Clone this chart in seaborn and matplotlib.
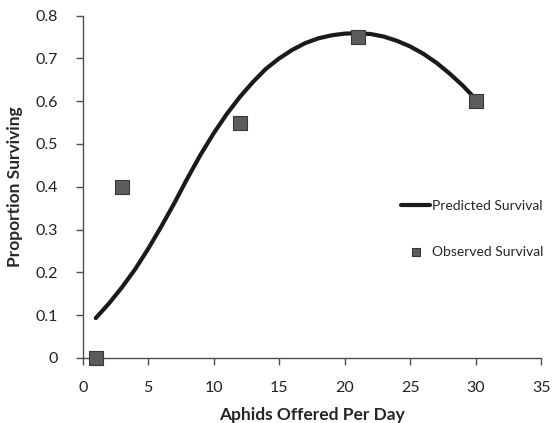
import numpy as np
import pandas as pd
import matplotlib
matplotlib.use("Agg")
import matplotlib.pyplot as plt
import seaborn as sns

# observed survival (squares)
obs_x = [1, 3, 12, 21, 30]
obs_y = [0.0, 0.40, 0.55, 0.75, 0.60]

# predicted survival curve
pred_x = list(range(1, 31))
pred_y = [0.093, 0.127, 0.165, 0.207, 0.255, 0.307, 0.362, 0.420, 0.475, 0.525,
          0.570, 0.610, 0.645, 0.676, 0.700, 0.720, 0.736, 0.747, 0.754, 0.758,
          0.759, 0.757, 0.751, 0.741, 0.728, 0.711, 0.690, 0.665, 0.637, 0.605]

sns.set_style("ticks")
plt.rcParams["font.family"] = ["Lato", "DejaVu Sans"]

pred = pd.DataFrame({"x": pred_x, "y": pred_y})
obs = pd.DataFrame({"x": obs_x, "y": obs_y})

fig = plt.figure(figsize=(5.55, 4.23), dpi=100)
ax = fig.add_axes([0.149, 0.154, 0.826, 0.809])

sns.lineplot(data=pred, x="x", y="y", ax=ax, color="#1a1a1a", linewidth=3,
             solid_joinstyle="round", solid_capstyle="round",
             label="Predicted Survival")
sns.scatterplot(data=obs, x="x", y="y", ax=ax, marker="s", s=88,
                color="#5c5c5c", edgecolor="#383838", linewidth=0.8,
                label="Observed Survival", zorder=3, clip_on=False)

ax.set_xlim(0, 35)
ax.set_ylim(0, 0.8)
ax.set_xticks(range(0, 36, 5))
ax.set_yticks(np.arange(0, 0.81, 0.1))
ax.set_yticklabels(["0", "0.1", "0.2", "0.3", "0.4", "0.5", "0.6", "0.7", "0.8"])
ax.tick_params(labelsize=11.5, color="#4d4d4d", labelcolor="#222222",
               length=5, width=1)
ax.tick_params(axis="y", pad=13)
ax.tick_params(axis="x", pad=12)
for s in ["left", "bottom"]:
    ax.spines[s].set_color("#4d4d4d")
    ax.spines[s].set_linewidth(1)
sns.despine(ax=ax)

ax.set_xlabel("Aphids Offered Per Day", fontsize=12.5, fontweight="bold", labelpad=8)
ax.set_ylabel("Proportion Surviving", fontsize=12.5, fontweight="bold", labelpad=9)

ax.legend(loc="upper left", bbox_to_anchor=(401 / 555, 1 - 200 / 423),
          bbox_transform=fig.transFigure, frameon=False, borderpad=0,
          borderaxespad=0, fontsize=10, labelspacing=2.45, handlelength=2.1,
          handletextpad=0.1, markerscale=0.65)

fig.savefig("out.png", dpi=100)
